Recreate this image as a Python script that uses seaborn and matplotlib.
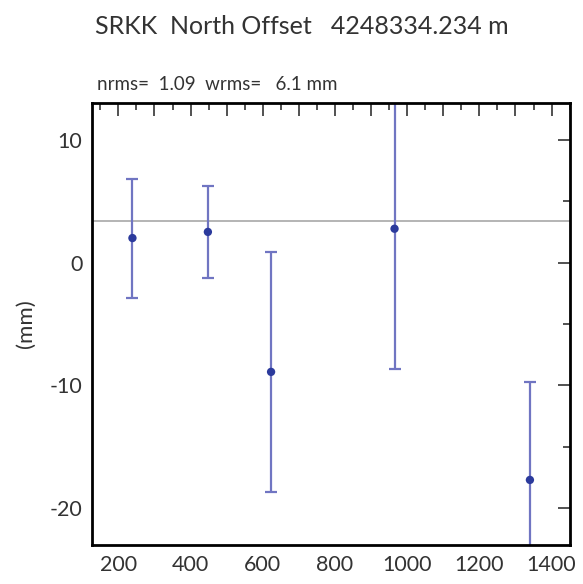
import matplotlib
matplotlib.use("Agg")
import matplotlib.pyplot as plt
import seaborn as sns
import pandas as pd
from matplotlib.ticker import MultipleLocator

# Data
epochs = [239, 448, 623, 965, 1340]
offsets = [2.0, 2.5, -8.9, 2.76, -17.7]
sigmas = [4.85, 3.75, 9.75, 11.45, 8.0]
mean_level = 3.36

title = "SRKK  North Offset   4248334.234 m"
subtitle = "nrms=  1.09  wrms=   6.1 mm"
ylabel = "(mm)"
xticks = [200, 400, 600, 800, 1000, 1200, 1400]
yticks = [-20, -10, 0, 10]

df = pd.DataFrame({"epoch": epochs, "offset": offsets, "sigma": sigmas})

sns.set_style("white")
plt.rcParams["font.family"] = ["Lato", "DejaVu Sans"]
plt.rcParams["axes.unicode_minus"] = False

fig = plt.figure(figsize=(5.83, 5.84), dpi=100)
ax = fig.add_axes([92 / 583, 1 - 545 / 584, (570 - 92) / 583, (545 - 103) / 584])

ax.axhline(mean_level, color="#b4b4b4", lw=1.4, zorder=1)
ax.errorbar(df["epoch"], df["offset"], yerr=df["sigma"], fmt="none",
            ecolor="#7075c2", elinewidth=1.6, capsize=4, capthick=1.6, zorder=2)
sns.scatterplot(data=df, x="epoch", y="offset", ax=ax, color="#2b3a9c",
                s=36, edgecolor="none", zorder=3, legend=False)

ax.set_xlim(127, 1451)
ax.set_ylim(-23, 13)
ax.xaxis.set_minor_locator(MultipleLocator(50))
ax.yaxis.set_minor_locator(MultipleLocator(5))

# Major x ticks every 100 (only labelled at 200s)
major_x = list(range(200, 1451, 100))
ax.set_xticks(major_x)
ax.set_xticklabels([str(x) if x in xticks else "" for x in major_x])
ax.set_yticks(yticks)
ax.set_yticklabels([str(y) for y in yticks])

ax.tick_params(axis="both", which="major", direction="in", length=9, width=1.2,
               top=True, right=True, labelsize=15.5, colors="#333333",
               labelcolor="#333333")
ax.tick_params(axis="both", which="minor", direction="in", length=5, width=1.2,
               top=True, right=True, colors="#333333")
ax.tick_params(axis="x", which="major", pad=7)
ax.tick_params(axis="y", which="major", pad=7)

for s in ax.spines.values():
    s.set_linewidth(2)
    s.set_color("black")

ax.set_xlabel("")
ax.set_ylabel(ylabel, fontsize=16, color="#333333", labelpad=10)

fig.text(0.517, 0.955, title, ha="center", va="center", fontsize=18, color="#333333")
fig.text(97 / 583, 1 - 85 / 584, subtitle, ha="left", va="center", fontsize=13.5, color="#333333")

fig.savefig("out.png", dpi=100)
